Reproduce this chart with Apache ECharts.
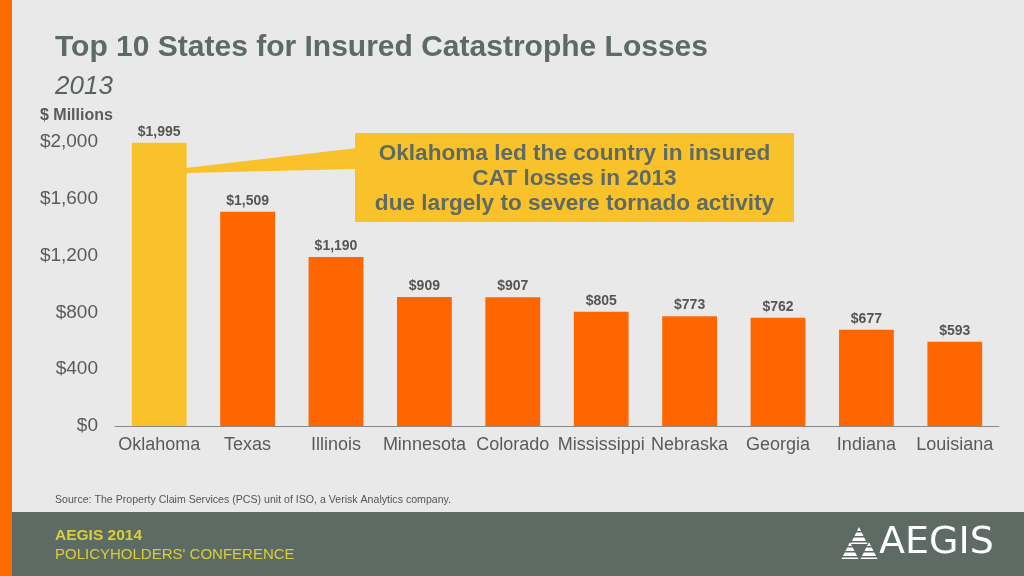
<!DOCTYPE html>
<html>
<head>
<meta charset="utf-8">
<script src="https://cdn.jsdelivr.net/npm/echarts@6/dist/echarts.min.js"></script>
<style>
html,body{margin:0;padding:0;background:#e9e9e9;}
#c{width:1024px;height:576px;}
</style>
</head>
<body>
<div id="c"></div>
<script>
var categories = ['Oklahoma','Texas','Illinois','Minnesota','Colorado','Mississippi','Nebraska','Georgia','Indiana','Louisiana'];
var losses = [1995,1509,1190,909,907,805,773,762,677,593];
var highlightIndex = 0;
var yMax = 2000;
var yStep = 400;

var FONT = '"Liberation Sans", Arial, Helvetica, sans-serif';
var ORANGE = '#ff6600';
var YELLOW = '#f9c22b';
var GREYGREEN = '#5e6a64';

function money(v){ return '$' + String(v).replace(/\B(?=(\d{3})+(?!\d))/g, ','); }

var chart = echarts.init(document.getElementById('c'), null, {renderer:'canvas'});

var option = {
  backgroundColor: '#e9e9e9',
  animation: false,
  grid: {left: 115, right: 25, top: 142, bottom: 150, containLabel: false},
  xAxis: {
    type: 'category',
    data: categories,
    axisLine: {show: true, lineStyle: {color: '#8a8a8a', width: 1}},
    axisTick: {show: false},
    axisLabel: {color: '#5a5a5a', fontSize: 18, fontFamily: FONT, margin: 10, interval: 0}
  },
  yAxis: {
    type: 'value',
    min: 0, max: yMax, interval: yStep,
    axisLine: {show: false},
    axisTick: {show: false},
    splitLine: {show: false},
    axisLabel: {color: '#5a5a5a', fontSize: 19, fontFamily: FONT, margin: 17, formatter: function(v){return money(v);}}
  },
  series: [{
    type: 'bar',
    data: losses,
    barWidth: '62%',
    itemStyle: {color: function(p){ return p.dataIndex === highlightIndex ? YELLOW : ORANGE; }},
    label: {
      show: true, position: 'top', distance: 4,
      color: '#555', fontSize: 14, fontWeight: 'bold', fontFamily: FONT,
      formatter: function(p){ return money(p.value); }
    }
  }],
  graphic: [
    {type:'rect', shape:{x:0,y:0,width:12,height:576}, style:{fill:'#ff6a00'}, z:10},
    {type:'text', left:55, top:33, style:{text:'Top 10 States for Insured Catastrophe Losses', fill:GREYGREEN, font:'bold 30px '+FONT}},
    {type:'text', left:55, top:74, style:{text:'2013', fill:'#5a625e', font:'italic 26px '+FONT}},
    {type:'text', left:40, top:108, style:{text:'$ Millions', fill:'#5a5a5a', font:'bold 16px '+FONT}},
    {type:'text', left:55, top:495, style:{text:'Source: The Property Claim Services (PCS) unit of ISO, a Verisk Analytics company.', fill:'#555', font:'10.6px '+FONT}},
    {type:'rect', shape:{x:12,y:512,width:1012,height:64}, style:{fill:GREYGREEN}, z:5},
    {type:'text', left:55, top:528, z:6, style:{text:'AEGIS 2014', fill:'#d9cf3c', font:'bold 15.5px '+FONT}},
    {type:'text', left:55, top:547, z:6, style:{text:"POLICYHOLDERS' CONFERENCE", fill:'#d9cf3c', font:'15px '+FONT}},
    {type:'text', left:879, top:524, z:6, style:{text:'AEGIS', fill:'#ffffff', font:'38px "DejaVu Sans", '+FONT}}
  ]
};
chart.setOption(option);

// callout anchored to the highlighted bar
var bandW = 884 / categories.length;
var anchor = chart.convertToPixel({xAxisIndex:0, yAxisIndex:0}, [highlightIndex, 1800]);
var barRight = anchor[0] + bandW * 0.31;
var boxX = 355, boxY = 133, boxW = 439, boxH = 89;
var extra = [
  {type:'polygon', shape:{points:[[barRight-1, anchor[1]-2.5],[barRight-1, anchor[1]+2.5],[boxX+2, boxY+36],[boxX+2, boxY+15]]}, style:{fill:YELLOW}, z:20},
  {type:'rect', shape:{x:boxX,y:boxY,width:boxW,height:boxH}, style:{fill:YELLOW}, z:20},
  {type:'text', x: boxX + boxW/2, y: boxY + 8, z:21, style:{text:'Oklahoma led the country in insured\nCAT losses in 2013\ndue largely to severe tornado activity', fill:GREYGREEN, font:'bold 22.6px '+FONT, textAlign:'center', lineHeight:25}}
];
// logo triangles
function tri(cx, by, w, h){ return {type:'polygon', z:7, shape:{points:[[cx, by-h],[cx+w/2, by],[cx-w/2, by]]}, style:{fill:'#ffffff'}}; }
extra.push(tri(859, 544, 17, 17));
extra.push(tri(850, 559, 17, 17));
extra.push(tri(869, 559, 17, 17));
for (var i=0;i<6;i++){
  extra.push({type:'rect', z:8, shape:{x:838, y:531 + i*5, width:42, height:1.5}, style:{fill:GREYGREEN}});
}
option.graphic = option.graphic.concat(extra);
chart.setOption({graphic: option.graphic});
</script>
</body>
</html>
